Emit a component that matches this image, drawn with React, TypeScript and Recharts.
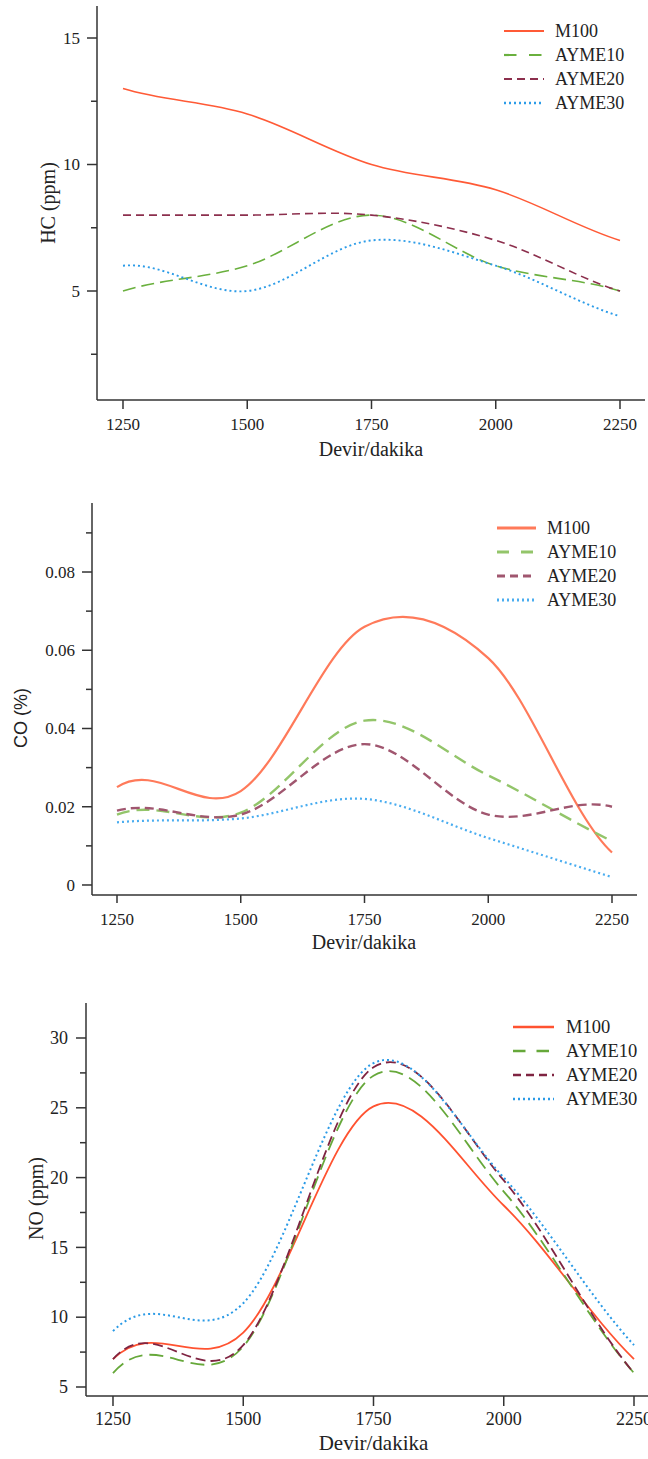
import React from 'react';
import { LineChart, Line, XAxis, YAxis, Legend } from 'recharts';

// ---------- data ----------
const rpm = [1250, 1500, 1750, 2000, 2250];
const seriesNames = ['M100', 'AYME10', 'AYME20', 'AYME30'];

const hcM100 = [13, 12, 10, 9, 7];
const hcAYME10 = [5, 6, 8, 6, 5];
const hcAYME20 = [8, 8, 8, 7, 5];
const hcAYME30 = [6, 5, 7, 6, 4];

const coM100 = [0.025, 0.024, 0.066, 0.058, 0.0083];
const coAYME10 = [0.018, 0.0185, 0.042, 0.028, 0.0112];
const coAYME20 = [0.019, 0.018, 0.036, 0.018, 0.02];
const coAYME30 = [0.016, 0.017, 0.022, 0.012, 0.002];

const noM100 = [7, 8.9, 25.1, 18, 7];
const noAYME10 = [6, 7.9, 27.3, 19, 6];
const noAYME20 = [7, 8, 27.9, 19.8, 6];
const noAYME30 = [9, 11, 28.2, 20, 8];

const hcTicks = [2.5, 5, 7.5, 10, 12.5, 15];
const hcMajor = [5, 10, 15];
const coTicks = [0, 0.01, 0.02, 0.03, 0.04, 0.05, 0.06, 0.07, 0.08, 0.09];
const coMajor = [0, 0.02, 0.04, 0.06, 0.08];
const noTicks = [5, 7.5, 10, 12.5, 15, 17.5, 20, 22.5, 25, 27.5, 30];
const noMajor = [5, 10, 15, 20, 25, 30];

const build = (a: number[], b: number[], c: number[], d: number[]) =>
  rpm.map((r, i) => ({ rpm: r, M100: a[i], AYME10: b[i], AYME20: c[i], AYME30: d[i] }));

const hcData = build(hcM100, hcAYME10, hcAYME20, hcAYME30);
const coData = build(coM100, coAYME10, coAYME20, coAYME30);
const noData = build(noM100, noAYME10, noAYME20, noAYME30);

// ---------- styles ----------
const SERIF = '"Liberation Serif", "Times New Roman", serif';
const SANS = '"Liberation Sans", Arial, sans-serif';
const AXIS = '#333';
const TXT = '#222';

type S = { color: string; width: number; dash?: string; legendDash?: string };

const hcStyles: S[] = [
  { color: '#FF5A36', width: 1.6 },
  { color: '#6AB03E', width: 1.6, dash: '13 6', legendDash: '12.5 12.5' },
  { color: '#8C2F4D', width: 1.6, dash: '8 5', legendDash: '8 5' },
  { color: '#2C9CE8', width: 1.9, dash: '2 3', legendDash: '2 3' },
];
const coStyles: S[] = [
  { color: '#FF7A5A', width: 2.2 },
  { color: '#93C56A', width: 2.4, dash: '13 7', legendDash: '12 12' },
  { color: '#A0566F', width: 2.4, dash: '9 5', legendDash: '8 5' },
  { color: '#4AADF0', width: 2.2, dash: '2 3', legendDash: '2 3' },
];
const noStyles: S[] = [
  { color: '#FF5230', width: 1.8 },
  { color: '#66A83A', width: 1.8, dash: '14 7', legendDash: '12.5 11' },
  { color: '#7F2442', width: 1.8, dash: '10 5', legendDash: '8 5' },
  { color: '#2A9AE6', width: 2, dash: '2 3', legendDash: '2 3' },
];

// Catmull-Rom style cubic curve whose end tangents copy their neighbours'
function splineEnds(context: any) {
  let xs: number[] = [];
  let ys: number[] = [];
  return {
    areaStart() {},
    areaEnd() {},
    lineStart() {
      xs = [];
      ys = [];
    },
    point(x: number, y: number) {
      xs.push(+x);
      ys.push(+y);
    },
    lineEnd() {
      const n = xs.length;
      if (!n) return;
      context.moveTo(xs[0], ys[0]);
      if (n === 1) return;
      if (n === 2) {
        context.lineTo(xs[1], ys[1]);
        return;
      }
      const tx: number[] = new Array(n);
      const ty: number[] = new Array(n);
      for (let i = 1; i < n - 1; i++) {
        tx[i] = (xs[i + 1] - xs[i - 1]) / 2;
        ty[i] = (ys[i + 1] - ys[i - 1]) / 2;
      }
      tx[0] = tx[1];
      ty[0] = ty[1];
      tx[n - 1] = tx[n - 2];
      ty[n - 1] = ty[n - 2];
      for (let i = 0; i < n - 1; i++) {
        context.bezierCurveTo(
          xs[i] + tx[i] / 3,
          ys[i] + ty[i] / 3,
          xs[i + 1] - tx[i + 1] / 3,
          ys[i + 1] - ty[i + 1] / 3,
          xs[i + 1],
          ys[i + 1]
        );
      }
    },
  };
}

type Cfg = {
  top: number;
  width: number;
  height: number;
  margin: { top: number; right: number; left: number; bottom: number };
  yWidth: number;
  xHeight: number;
  xDomain: [number, number];
  yDomain: [number, number];
  yTicks: number[];
  yMajor: number[];
  yFmt: (v: number) => string;
  data: any[];
  styles: S[];
  tickFont: number;
  yGap: number;
  xTickLen: number;
  xTickBase: number;
  xLabel: { x: number; y: number; size: number };
  yLabel: { x: number; y: number; size: number; text: string; family: string };
  legend: { left: number; top: number; lineLen: number; textX: number; rowH: number; size: number };
};

const fmtInt = (v: number) => String(v);
const fmtCo = (v: number) => (v === 0 ? '0' : v.toFixed(2));

const hcCfg: Cfg = {
  top: 0,
  width: 648,
  height: 470,
  margin: { top: 6, right: 3, left: 0, bottom: 0 },
  yWidth: 97,
  xHeight: 70,
  xDomain: [1197.7, 2300.3],
  yDomain: [0.692, 16.265],
  yTicks: hcTicks,
  yMajor: hcMajor,
  yFmt: fmtInt,
  data: hcData,
  styles: hcStyles,
  tickFont: 17,
  yGap: 17,
  xTickLen: 9,
  xTickBase: 30,
  xLabel: { x: 371, y: 456, size: 20 },
  yLabel: { x: 55, y: 203, size: 20, text: 'HC (ppm)', family: SERIF },
  legend: { left: 502, top: 19, lineLen: 40, textX: 53, rowH: 24, size: 18 },
};

const coCfg: Cfg = {
  top: 490,
  width: 648,
  height: 470,
  margin: { top: 13, right: 11, left: 0, bottom: 0 },
  yWidth: 92,
  xHeight: 65,
  xDomain: [1199.5, 2300.5],
  yDomain: [-0.00256, 0.09764],
  yTicks: coTicks,
  yMajor: coMajor,
  yFmt: fmtCo,
  data: coData,
  styles: coStyles,
  tickFont: 17,
  yGap: 17,
  xTickLen: 8,
  xTickBase: 30,
  xLabel: { x: 364, y: 459, size: 20 },
  yLabel: { x: 27, y: 228, size: 18, text: 'CO (%)', family: SANS },
  legend: { left: 495, top: 26, lineLen: 39, textX: 52, rowH: 24, size: 18 },
};

const noCfg: Cfg = {
  top: 990,
  width: 660,
  height: 469,
  margin: { top: 13, right: 0, left: 0, bottom: 0 },
  yWidth: 86,
  xHeight: 63,
  xDomain: [1198.2, 2299.9],
  yDomain: [4.355, 32.507],
  yTicks: noTicks,
  yMajor: noMajor,
  yFmt: fmtInt,
  data: noData,
  styles: noStyles,
  tickFont: 18,
  yGap: 18,
  xTickLen: 10,
  xTickBase: 29,
  xLabel: { x: 373.5, y: 460, size: 21 },
  yLabel: { x: 43, y: 208.5, size: 20, text: 'NO (ppm)', family: SERIF },
  legend: { left: 511, top: 25, lineLen: 41, textX: 55, rowH: 24, size: 18.5 },
};

function Panel({ cfg }: { cfg: Cfg }) {
  const yTick = (props: any) => {
    const { x, y, payload } = props;
    const v = payload.value;
    const major = cfg.yMajor.some((m) => Math.abs(m - v) < 1e-9);
    return (
      <g>
        <line x1={x - (major ? 10 : 6)} x2={x} y1={y} y2={y} stroke={AXIS} strokeWidth={1.5} />
        {major && (
          <text x={x - cfg.yGap} y={y} dy="0.34em" textAnchor="end" fontSize={cfg.tickFont} fontFamily={SERIF} fill={TXT}>
            {cfg.yFmt(v)}
          </text>
        )}
      </g>
    );
  };
  const xTick = (props: any) => {
    const { x, y, payload } = props;
    return (
      <g>
        <line x1={x} x2={x} y1={y} y2={y + cfg.xTickLen} stroke={AXIS} strokeWidth={1.5} />
        <text x={x} y={y + cfg.xTickBase} textAnchor="middle" fontSize={cfg.tickFont} fontFamily={SERIF} fill={TXT}>
          {payload.value}
        </text>
      </g>
    );
  };
  const lg = cfg.legend;
  const lgW = 150;
  const lgH = lg.rowH * 4 + 8;
  const legendContent = () => (
    <svg width={lgW} height={lgH} style={{ display: 'block' }}>
      {seriesNames.map((name, i) => {
        const st = cfg.styles[i];
        const cy = 12 + i * lg.rowH;
        return (
          <g key={name}>
            <line
              x1={2}
              x2={2 + lg.lineLen}
              y1={cy}
              y2={cy}
              stroke={st.color}
              strokeWidth={st.width + 0.6}
              strokeDasharray={st.legendDash}
            />
            <text x={lg.textX} y={cy} dy="0.34em" fontSize={lg.size} fontFamily={SERIF} fill={TXT}>
              {name}
            </text>
          </g>
        );
      })}
    </svg>
  );
  return (
    <div style={{ position: 'absolute', left: 0, top: cfg.top }}>
      <LineChart width={cfg.width} height={cfg.height} data={cfg.data} margin={cfg.margin}>
        <XAxis
          dataKey="rpm"
          type="number"
          domain={cfg.xDomain}
          ticks={rpm}
          interval={0}
          allowDataOverflow
          height={cfg.xHeight}
          tickSize={0}
          tickMargin={0}
          tickLine={false}
          axisLine={{ stroke: AXIS, strokeWidth: 1.5 }}
          tick={xTick}
          label={{
            content: () => (
              <text x={cfg.xLabel.x} y={cfg.xLabel.y} textAnchor="middle" fontSize={cfg.xLabel.size} fontFamily={SERIF} fill={TXT}>
                Devir/dakika
              </text>
            ),
          }}
        />
        <YAxis
          type="number"
          domain={cfg.yDomain}
          ticks={cfg.yTicks}
          interval={0}
          allowDataOverflow
          width={cfg.yWidth}
          tickSize={0}
          tickMargin={0}
          tickLine={false}
          axisLine={{ stroke: AXIS, strokeWidth: 1.5 }}
          tick={yTick}
          label={{
            content: () => (
              <text
                x={0}
                y={0}
                transform={`translate(${cfg.yLabel.x},${cfg.yLabel.y}) rotate(-90)`}
                textAnchor="middle"
                fontSize={cfg.yLabel.size}
                fontFamily={cfg.yLabel.family}
                fill={TXT}
              >
                {cfg.yLabel.text}
              </text>
            ),
          }}
        />
        <Legend
          layout="vertical"
          align="center"
          verticalAlign="middle"
          wrapperStyle={{ left: lg.left, top: lg.top, width: lgW, height: lgH }}
          content={legendContent}
        />
        {seriesNames.map((name, i) => {
          const st = cfg.styles[i];
          return (
            <Line
              key={name}
              type={splineEnds as any}
              dataKey={name}
              name={name}
              stroke={st.color}
              strokeWidth={st.width}
              strokeDasharray={st.dash}
              dot={false}
              activeDot={false}
              isAnimationActive={false}
            />
          );
        })}
      </LineChart>
    </div>
  );
}

export default function App() {
  return (
    <div style={{ position: 'absolute', left: 0, top: 0, width: 648, height: 1459, overflow: 'hidden', background: '#fff' }}>
      <Panel cfg={hcCfg} />
      <Panel cfg={coCfg} />
      <Panel cfg={noCfg} />
    </div>
  );
}
